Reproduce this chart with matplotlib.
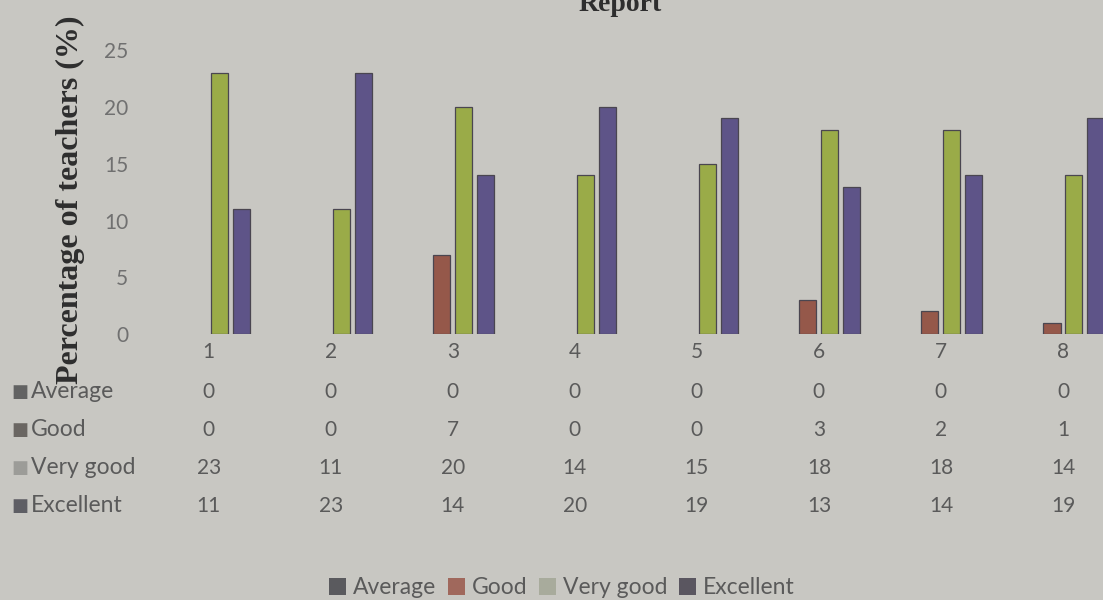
import numpy as np
import matplotlib
matplotlib.use("Agg")
import matplotlib.pyplot as plt
from matplotlib.patches import Patch
from matplotlib.transforms import blended_transform_factory

# ---------------------------------------------------------------- data
groups = ["1", "2", "3", "4", "5", "6", "7", "8"]
series = ["Average", "Good", "Very good", "Excellent"]
average = [0, 0, 0, 0, 0, 0, 0, 0]
good = [0, 0, 7, 0, 0, 3, 2, 1]
very_good = [23, 11, 20, 14, 15, 18, 18, 14]
excellent = [11, 23, 14, 20, 19, 13, 14, 19]
values = [average, good, very_good, excellent]
yticks = [0, 5, 10, 15, 20, 25]

BG = "#c8c7c2"
BAR_C = ["#5a5a5a", "#95584a", "#9aab48", "#5e5488"]
LEG_C = ["#5a5a5e", "#a0685c", "#a8ab9c", "#5a5660"]
ROW_C = ["#626262", "#6a6662", "#9c9c98", "#5e5e64"]
TXT_C = "#5a5a5a"
SANS = "Lato"

fig = plt.figure(figsize=(11.03, 6.0), dpi=100, facecolor=BG)
ax = fig.add_axes([0.134, 0.443, 0.885, 0.4733])
ax.set_facecolor(BG)

x = np.arange(1, len(groups) + 1)
slot = 0.18
for k, (vals, col) in enumerate(zip(values, BAR_C)):
    bars = ax.bar(x + (k - 1.5) * slot, vals, 0.14, color=col,
                  edgecolor="#4a4650", linewidth=0.9)
    # Excel draws nothing for a zero value
    for b, v in zip(bars, vals):
        if v == 0:
            b.set_visible(False)

ax.set_xlim(0.5, 8.5)
ax.set_ylim(0, 25)
ax.set_yticks(yticks)
ax.set_yticklabels([str(t) for t in yticks], fontfamily=SANS, fontsize=15,
                   color="#707070")
ax.tick_params(axis="y", length=0, pad=14)
ax.set_xticks([])
for s in ax.spines.values():
    s.set_visible(False)

# data table beneath the plot
tr = blended_transform_factory(ax.transData, fig.transFigure)
row_y = [1 - 392 / 600, 1 - 430 / 600, 1 - 468 / 600, 1 - 506 / 600]
for xi, g in zip(x, groups):
    ax.text(xi, 1 - 352 / 600, g, transform=tr, ha="center", va="center",
            fontfamily=SANS, fontsize=15, color=TXT_C)
for ry, name, vals, rc in zip(row_y, series, values, ROW_C):
    fig.text(11 / 1103, ry, "\u25a0", ha="left", va="center", fontsize=13,
             color=rc, fontfamily="DejaVu Sans")
    fig.text(31 / 1103, ry, name, ha="left", va="center", fontfamily=SANS,
             fontsize=16.5, color=TXT_C)
    for xi, v in zip(x, vals):
        ax.text(xi, ry, str(v), transform=tr, ha="center", va="center",
                fontfamily=SANS, fontsize=15, color=TXT_C)

# title (cut off by the top edge, as in the photo) and axis label
fig.text(620 / 1103, 1 - 11 / 600, "Report", ha="center", va="baseline",
         fontfamily="Liberation Serif", fontweight="bold", fontsize=20,
         color="#2e2e2e")
fig.text(70 / 1103, 1 - 200 / 600, "Percentage of teachers (%)", rotation=90,
         ha="center", va="center", fontfamily="Liberation Serif",
         fontweight="bold", fontsize=23, color="#2e2e2e")

handles = [Patch(facecolor=c, edgecolor="none") for c in LEG_C]
fig.legend(handles, series, loc="center", bbox_to_anchor=(562 / 1103, 1 - 588 / 600),
           ncol=4, frameon=False, handlelength=0.75, handleheight=0.75,
           handletextpad=0.3, columnspacing=0.5,
           prop={"family": SANS, "size": 16.5})
for t in fig.legends[0].get_texts():
    t.set_color(TXT_C)

fig.savefig("out.png", dpi=100, facecolor=BG)
